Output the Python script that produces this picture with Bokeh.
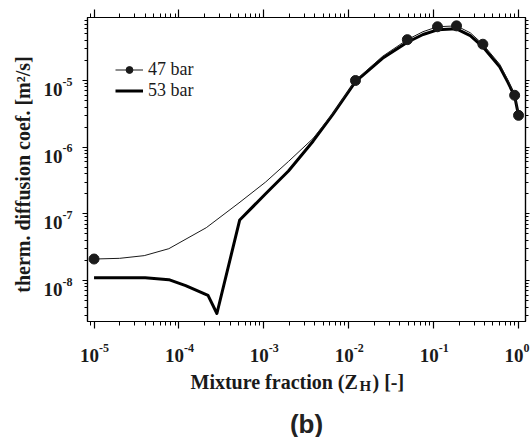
import numpy as np
from bokeh.plotting import figure
from bokeh.layouts import column, row
from bokeh.models import Range1d, FixedTicker, LogAxis, Legend, LegendItem
from bokeh.core.properties import value
from bokeh.embed import file_html
from bokeh.resources import INLINE

# ---- data ----
z47 = [1e-5, 2e-5, 3.9e-5, 7.6e-5, 2.1e-4, 5.1e-4, 1.05e-3, 1.95e-3, 3.8e-3, 6.5e-3,
       1.2e-2, 2.5e-2, 4.9e-2, 7.5e-2, 0.111, 0.186, 0.27, 0.38, 0.6, 0.75, 0.9, 1.0]
d47 = [2.1e-8, 2.15e-8, 2.36e-8, 3.0e-8, 6.2e-8, 1.46e-7, 3.0e-7, 6.1e-7, 1.35e-6, 3.2e-6,
       1.0e-5, 2.3e-5, 4.1e-5, 5.4e-5, 6.4e-5, 6.6e-5, 5.2e-5, 3.5e-5, 1.75e-5, 1.0e-5, 6.0e-6, 3.0e-6]
z47_mk = [1e-5, 1.2e-2, 4.9e-2, 0.111, 0.186, 0.38, 0.9, 1.0]
d47_mk = [2.1e-8, 1.0e-5, 4.1e-5, 6.4e-5, 6.6e-5, 3.5e-5, 6.0e-6, 3.0e-6]

z53 = [1e-5, 4e-5, 7.6e-5, 1.2e-4, 2.2e-4, 2.8e-4, 5.2e-4, 1.05e-3, 1.95e-3, 3.8e-3, 6.5e-3,
       1.2e-2, 2.5e-2, 4.9e-2, 7.5e-2, 0.111, 0.186, 0.27, 0.38, 0.6, 0.75, 0.9, 1.0]
d53 = [1.1e-8, 1.1e-8, 1.03e-8, 8.4e-9, 6.0e-9, 3.2e-9, 8.1e-8, 2.0e-7, 4.4e-7, 1.23e-6, 3.1e-6,
       9.6e-6, 2.15e-5, 3.75e-5, 4.9e-5, 5.75e-5, 5.95e-5, 4.7e-5, 3.2e-5, 1.6e-5, 9.4e-6, 5.8e-6, 3.0e-6]

series_names = ["47 bar", "53 bar"]

xt_vals = [1e-5, 1e-4, 1e-3, 1e-2, 1e-1, 1.0]
xt_exps = ["-5", "-4", "-3", "-2", "-1", "0"]
yt_vals = [1e-8, 1e-7, 1e-6, 1e-5]
yt_exps = ["-8", "-7", "-6", "-5"]

x_label_main = "Mixture fraction (Z"
x_label_sub = "H"
x_label_end = ") [-]"
y_label = "therm. diffusion coef. [m\u00b2/s]"
panel_tag = "(b)"

SERIF = "Liberation Serif"
INK = "#1a1a1a"

# ---- geometry (styling) ----
W, H = 530, 437
FL, FR, FT, FB = 87, 525, 17, 321          # frame edges in page pixels
LEFT_W = 79                                 # width of the left label strip
BOT_H = H - 337                             # height of the bottom label strip
X0, X1 = -5.077, 0.082                      # log10 of x range
Y0, Y1 = -8.615, -4.055                     # log10 of y range
YLABEL_CENTER_PX = 174                      # vertical centre of the y title (page px)

xr = Range1d(10 ** X0, 10 ** X1)
yr = Range1d(10 ** Y0, 10 ** Y1)

# ---- main plot ----
p = figure(x_axis_type="log", y_axis_type="log", x_range=xr, y_range=yr,
           width=W - LEFT_W, height=H - BOT_H,
           min_border_left=FL - LEFT_W, min_border_right=W - FR,
           min_border_top=FT, min_border_bottom=(H - BOT_H) - FB,
           output_backend="svg", toolbar_location=None)
p.background_fill_color = "white"
p.border_fill_color = "white"
p.outline_line_color = "black"
p.outline_line_width = 1.2
p.xgrid.visible = False
p.ygrid.visible = False

x_minor = [m * 10.0 ** k for k in range(-6, 1) for m in range(2, 10)]
y_minor = [m * 10.0 ** k for k in range(-10, -3) for m in range(2, 10)]
xticker = FixedTicker(ticks=xt_vals, minor_ticks=x_minor)
yticker = FixedTicker(ticks=yt_vals, minor_ticks=y_minor)

p.add_layout(LogAxis(), "above")
p.add_layout(LogAxis(), "right")
for ax in p.xaxis:
    ax.ticker = xticker
for ax in p.yaxis:
    ax.ticker = yticker
for ax in list(p.xaxis) + list(p.yaxis):
    ax.major_label_text_font_size = "1px"
    ax.major_label_text_alpha = 0
    ax.major_label_standoff = 0
    ax.axis_line_color = "black"
    ax.axis_line_width = 1.2
    ax.major_tick_line_color = "black"
    ax.minor_tick_line_color = "black"
    ax.major_tick_line_width = 1.2
    ax.minor_tick_line_width = 1.0
    ax.major_tick_in = 0
    ax.minor_tick_in = 0
    ax.major_tick_out = 7
    ax.minor_tick_out = 4
p.above[0].major_tick_out = 8
p.above[0].minor_tick_out = 4
p.left[0].major_tick_out = 5
p.left[0].minor_tick_out = 3
p.right[0].major_tick_out = 4
p.right[0].minor_tick_out = 3

r53 = p.line(z53, d53, line_width=3, line_color="black", line_join="round")
r47 = p.line(z47, d47, line_width=1, line_color=INK)
r47m = p.scatter(z47_mk, d47_mk, size=10, fill_color=INK, line_color=INK)

legend = Legend(items=[LegendItem(label=series_names[0], renderers=[r47, r47m]),
                       LegendItem(label=series_names[1], renderers=[r53])],
                location=(28, 220), orientation="vertical",
                glyph_width=28, glyph_height=17, label_height=17,
                label_standoff=5, spacing=0, padding=0, margin=0,
                border_line_color=None, background_fill_alpha=0,
                label_text_font=SERIF, label_text_font_size="18px",
                label_text_line_height=0.85, label_text_color=INK)
p.add_layout(legend, "center")

# ---- left strip: y tick labels and y title (shares the y range) ----
lf = figure(y_axis_type="log", x_range=Range1d(0, LEFT_W), y_range=yr,
            width=LEFT_W, height=H - BOT_H,
            min_border_left=0, min_border_right=0, min_border_top=FT,
            min_border_bottom=(H - BOT_H) - FB,
            x_axis_location=None, y_axis_location=None,
            output_backend="svg", toolbar_location=None)
lf.outline_line_color = None
lf.xgrid.visible = False
lf.ygrid.visible = False
lf.text(x=62, y=yt_vals, text=["10"] * len(yt_vals), y_offset=9,
        text_align="right", text_baseline="alphabetic",
        text_font=value(SERIF), text_font_style="bold", text_font_size="19px", text_color=INK)
lf.text(x=62, y=yt_vals, text=yt_exps, y_offset=1,
        text_align="left", text_baseline="alphabetic",
        text_font=value(SERIF), text_font_style="bold", text_font_size="12px", text_color=INK)
ylab_y = 10 ** (Y1 - (YLABEL_CENTER_PX - FT) / (FB - FT) * (Y1 - Y0))
lf.text(x=22, y=[ylab_y], text=[y_label], angle=np.pi / 2,
        text_align="center", text_baseline="middle",
        text_font=value(SERIF), text_font_style="bold", text_font_size="20px", text_color=INK)

# ---- bottom strip: x tick labels, x title and panel tag (same log mapping) ----
dpp = (X1 - X0) / (FR - FL)
bx0 = 10 ** (X0 - FL * dpp)
bx1 = 10 ** (X1 + (W - FR) * dpp)
bf = figure(x_axis_type="log", x_range=Range1d(bx0, bx1), y_range=Range1d(BOT_H, 0),
            width=W, height=BOT_H,
            min_border_left=0, min_border_right=0, min_border_top=0, min_border_bottom=0,
            x_axis_location=None, y_axis_location=None,
            output_backend="svg", toolbar_location=None)
bf.outline_line_color = None
bf.xgrid.visible = False
bf.ygrid.visible = False
bf.text(x=xt_vals, y=18, text=["10"] * len(xt_vals), x_offset=5,
        text_align="right", text_baseline="alphabetic",
        text_font=value(SERIF), text_font_style="bold", text_font_size="19px", text_color=INK)
bf.text(x=xt_vals, y=10, text=xt_exps, x_offset=5,
        text_align="left", text_baseline="alphabetic",
        text_font=value(SERIF), text_font_style="bold", text_font_size="12px", text_color=INK)
bf.text(x=[bx0], y=44, text=[x_label_main], x_offset=190,
        text_align="left", text_baseline="alphabetic",
        text_font=value(SERIF), text_font_style="bold", text_font_size="20px", text_color=INK)
bf.text(x=[bx0], y=48, text=[x_label_sub], x_offset=359,
        text_align="left", text_baseline="alphabetic",
        text_font=value(SERIF), text_font_style="bold", text_font_size="15px", text_color=INK)
bf.text(x=[bx0], y=44, text=[x_label_end], x_offset=372,
        text_align="left", text_baseline="alphabetic",
        text_font=value(SERIF), text_font_style="bold", text_font_size="20px", text_color=INK)
bf.text(x=[bx0], y=86, text=[panel_tag], x_offset=306,
        text_align="center", text_baseline="alphabetic",
        text_font=value("Liberation Sans"), text_font_style="bold", text_font_size="26px",
        text_color="#222222")

page = column(row(lf, p), bf)
open("out.html", "w").write(file_html(page, INLINE))
